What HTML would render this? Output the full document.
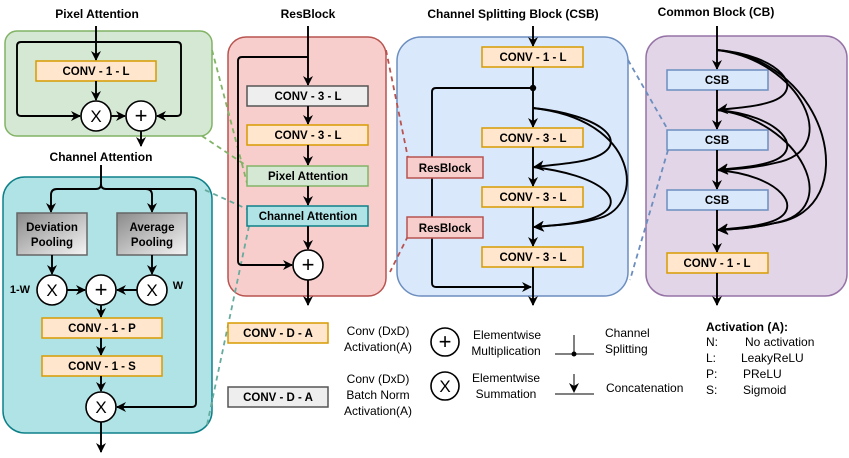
<!DOCTYPE html>
<html><head><meta charset="utf-8"><style>
html,body{margin:0;padding:0;background:#fff}
svg{display:block}
text{font-family:"Liberation Sans",sans-serif}
.t{font-weight:bold;font-size:12px;text-anchor:middle}
.b{font-weight:bold;font-size:11.5px;text-anchor:middle}
.l{font-size:12px}
.ln{stroke:#000;stroke-width:1.9;fill:none}
</style></head><body>
<svg width="849" height="458" viewBox="0 0 849 458" xmlns="http://www.w3.org/2000/svg">
<defs>
<marker id="a" markerWidth="10" markerHeight="10" refX="9" refY="5" orient="auto" markerUnits="userSpaceOnUse"><path d="M0,0 L10,5 L0,10 L3,5 z" fill="#000"/></marker>
<marker id="s" markerWidth="11" markerHeight="11" refX="10" refY="5.5" orient="auto" markerUnits="userSpaceOnUse"><path d="M0,0 L11,5.5 L0,11 L3,5.5 z" fill="#000"/></marker>
<linearGradient id="g" x1="0" y1="0" x2="1" y2="1"><stop offset="0" stop-color="#8a8a8a"/><stop offset="1" stop-color="#f5f5f5"/></linearGradient>
</defs>

<rect x="5" y="31" width="207" height="105" rx="12" fill="#d5e8d4" stroke="#82b366" stroke-width="1.5"/>
<rect x="3" y="177" width="209" height="256" rx="22" fill="#b0e3e6" stroke="#0e8088" stroke-width="1.5"/>
<rect x="228" y="37" width="158" height="259" rx="18" fill="#f8cecc" stroke="#b85450" stroke-width="1.5"/>
<rect x="397" y="37" width="231" height="259" rx="24" fill="#dae8fc" stroke="#6c8ebf" stroke-width="1.5"/>
<rect x="646" y="36" width="201" height="260" rx="22" fill="#e1d5e7" stroke="#9673a6" stroke-width="1.5"/>

<g stroke-width="1.8" stroke-dasharray="5,4" fill="none">
<path d="M212,50 L247,183" stroke="#82b366"/>
<path d="M202,136 L247,166" stroke="#82b366"/>
<path d="M205,190 L247,209" stroke="#67ab9f"/>
<path d="M249,226 L207,425" stroke="#67ab9f"/>
<path d="M386,50 L408,158" stroke="#b85450"/>
<path d="M408,236 L390,272" stroke="#b85450"/>
<path d="M628,60 L668,130" stroke="#6c8ebf"/>
<path d="M668,150 L630,280" stroke="#6c8ebf"/>
</g>

<text class="t" x="97" y="18">Pixel Attention</text>
<text class="t" x="308" y="18">ResBlock</text>
<text class="t" x="513" y="18">Channel Splitting Block (CSB)</text>
<text class="t" x="716" y="16">Common Block (CB)</text>
<text class="t" x="101" y="161">Channel Attention</text>

<path class="ln" d="M96,26 L96,60" marker-end="url(#a)"/>
<path class="ln" d="M96,42 L21,42 Q17,42 17,46 L17,112 Q17,116 21,116 L80,116" marker-end="url(#a)"/>
<path class="ln" d="M96,42 L177,42 Q181,42 181,46 L181,112 Q181,116 177,116 L157,116" marker-end="url(#a)"/>
<rect x="36" y="61" width="120" height="20" fill="#ffe6cc" stroke="#d79b00" stroke-width="1.5"/>
<text class="b" x="96" y="75">CONV - 1 - L</text>
<path class="ln" d="M96,81 L96,100" marker-end="url(#a)"/>
<path class="ln" d="M111,116 L125,116" marker-end="url(#a)"/>
<circle cx="96" cy="116" r="15" fill="#fff" stroke="#000" stroke-width="1.6"/>
<text x="96" y="122" font-size="17" text-anchor="middle">X</text>
<circle cx="141" cy="116" r="15" fill="#fff" stroke="#000" stroke-width="1.6"/>
<text x="141" y="123" font-size="22" text-anchor="middle">+</text>
<path class="ln" d="M141,131 L141,146" marker-end="url(#a)"/>

<path class="ln" d="M101,165 L101,184 Q101,189 96,189 L57,189 Q51,189 51,195 L51,212" marker-end="url(#a)"/>
<path class="ln" d="M101,184 Q101,189 106,189 L146,189 Q152,189 152,195 L152,212" marker-end="url(#a)"/>
<path class="ln" d="M106,189 L192,189 Q196,189 196,193 L196,403 Q196,407 192,407 L117,407" marker-end="url(#a)"/>
<rect x="17" y="213" width="70" height="42" fill="url(#g)" stroke="#666" stroke-width="1.5"/>
<text class="b" x="52" y="231">Deviation</text><text class="b" x="52" y="246">Pooling</text>
<rect x="117" y="213" width="70" height="42" fill="url(#g)" stroke="#666" stroke-width="1.5"/>
<text class="b" x="152" y="231">Average</text><text class="b" x="152" y="246">Pooling</text>
<path class="ln" d="M52,255 L52,274" marker-end="url(#a)"/>
<path class="ln" d="M152,255 L152,274" marker-end="url(#a)"/>
<path class="ln" d="M67,290 L85,290" marker-end="url(#a)"/>
<path class="ln" d="M137,290 L117,290" marker-end="url(#a)"/>
<circle cx="52" cy="290" r="15" fill="#fff" stroke="#000" stroke-width="1.6"/><text x="52" y="296" font-size="17" text-anchor="middle">X</text>
<circle cx="101" cy="290" r="15" fill="#fff" stroke="#000" stroke-width="1.6"/><text x="101" y="297" font-size="22" text-anchor="middle">+</text>
<circle cx="152" cy="290" r="15" fill="#fff" stroke="#000" stroke-width="1.6"/><text x="152" y="296" font-size="17" text-anchor="middle">X</text>
<text x="20" y="293" font-size="11" font-weight="bold" text-anchor="middle">1-W</text>
<text x="178" y="289" font-size="11" font-weight="bold" text-anchor="middle">W</text>
<path class="ln" d="M101,305 L101,317" marker-end="url(#a)"/>
<rect x="42" y="318" width="120" height="20" fill="#ffe6cc" stroke="#d79b00" stroke-width="1.5"/>
<text class="b" x="102" y="332">CONV - 1 - P</text>
<path class="ln" d="M101,338 L101,355" marker-end="url(#a)"/>
<rect x="42" y="356" width="120" height="20" fill="#ffe6cc" stroke="#d79b00" stroke-width="1.5"/>
<text class="b" x="102" y="370">CONV - 1 - S</text>
<path class="ln" d="M101,376 L101,391" marker-end="url(#a)"/>
<circle cx="101" cy="407" r="15" fill="#fff" stroke="#000" stroke-width="1.6"/><text x="101" y="413" font-size="17" text-anchor="middle">X</text>
<path class="ln" d="M101,422 L101,452" marker-end="url(#a)"/>

<path class="ln" d="M308,26 L308,85" marker-end="url(#a)"/>
<path class="ln" d="M308,57 L242,57 Q238,57 238,61 L238,261 Q238,265 242,265 L292,265" marker-end="url(#a)"/>
<rect x="247" y="86" width="121" height="20" fill="#eeeeee" stroke="#555" stroke-width="1.5"/>
<text class="b" x="308" y="100">CONV - 3 - L</text>
<path class="ln" d="M308,106 L308,124" marker-end="url(#a)"/>
<rect x="247" y="125" width="121" height="20" fill="#ffe6cc" stroke="#d79b00" stroke-width="1.5"/>
<text class="b" x="308" y="139">CONV - 3 - L</text>
<path class="ln" d="M308,145 L308,165" marker-end="url(#a)"/>
<rect x="247" y="166" width="121" height="20" fill="#d5e8d4" stroke="#82b366" stroke-width="1.5"/>
<text class="b" x="308" y="180">Pixel Attention</text>
<path class="ln" d="M308,186 L308,205" marker-end="url(#a)"/>
<rect x="247" y="206" width="121" height="20" fill="#b0e3e6" stroke="#0e8088" stroke-width="1.5"/>
<text class="b" x="308" y="220">Channel Attention</text>
<path class="ln" d="M308,226 L308,249" marker-end="url(#a)"/>
<circle cx="308" cy="265" r="15" fill="#fff" stroke="#000" stroke-width="1.6"/><text x="308" y="272" font-size="22" text-anchor="middle">+</text>
<path class="ln" d="M308,280 L308,305" marker-end="url(#a)"/>

<path class="ln" d="M533,26 L533,46" marker-end="url(#a)"/>
<rect x="482" y="47" width="101" height="20" fill="#ffe6cc" stroke="#d79b00" stroke-width="1.5"/>
<text class="b" x="533" y="61">CONV - 1 - L</text>
<path class="ln" d="M533,67 L533,127" marker-end="url(#a)"/>
<circle cx="533" cy="88" r="3.2" fill="#000"/>
<path class="ln" d="M533,88 L436,88 Q432,88 432,92 L432,283 Q432,287 436,287 L531,287" marker-end="url(#a)"/>
<rect x="407" y="157" width="76" height="21" fill="#f8cecc" stroke="#b85450" stroke-width="1.5"/>
<text class="b" x="445" y="172">ResBlock</text>
<rect x="407" y="217" width="76" height="21" fill="#f8cecc" stroke="#b85450" stroke-width="1.5"/>
<text class="b" x="445" y="232">ResBlock</text>
<rect x="482" y="128" width="101" height="19" fill="#ffe6cc" stroke="#d79b00" stroke-width="1.5"/>
<text class="b" x="533" y="142">CONV - 3 - L</text>
<path class="ln" d="M533,147 L533,186" marker-end="url(#a)"/>
<rect x="482" y="187" width="101" height="20" fill="#ffe6cc" stroke="#d79b00" stroke-width="1.5"/>
<text class="b" x="533" y="201">CONV - 3 - L</text>
<path class="ln" d="M533,207 L533,246" marker-end="url(#a)"/>
<rect x="482" y="247" width="101" height="20" fill="#ffe6cc" stroke="#d79b00" stroke-width="1.5"/>
<text class="b" x="533" y="261">CONV - 3 - L</text>
<path class="ln" d="M533,267 L533,305" marker-end="url(#a)"/>
<g class="ln" stroke-width="2">
<path d="M533,108 C600,115 628,140 600,155 C585,163 560,164 534,167" marker-end="url(#s)"/>
<path d="M533,108 C640,120 645,205 600,218 C580,224 560,225 534,227" marker-end="url(#s)"/>
<path d="M533,167 C600,175 628,200 600,215 C585,223 560,225 534,227" marker-end="url(#s)"/>
</g>

<path class="ln" d="M717,26 L717,69" marker-end="url(#a)"/>
<rect x="667" y="70" width="101" height="20" fill="#dae8fc" stroke="#6c8ebf" stroke-width="1.5"/>
<text class="b" x="717" y="84">CSB</text>
<path class="ln" d="M717,90 L717,129" marker-end="url(#a)"/>
<rect x="667" y="130" width="101" height="20" fill="#dae8fc" stroke="#6c8ebf" stroke-width="1.5"/>
<text class="b" x="717" y="144">CSB</text>
<path class="ln" d="M717,150 L717,189" marker-end="url(#a)"/>
<rect x="667" y="190" width="101" height="20" fill="#dae8fc" stroke="#6c8ebf" stroke-width="1.5"/>
<text class="b" x="717" y="204">CSB</text>
<path class="ln" d="M717,210 L717,252" marker-end="url(#a)"/>
<rect x="667" y="253" width="101" height="20" fill="#ffe6cc" stroke="#d79b00" stroke-width="1.5"/>
<text class="b" x="717" y="267">CONV - 1 - L</text>
<path class="ln" d="M717,273 L717,305" marker-end="url(#a)"/>
<g class="ln" stroke-width="2">
<path d="M717,50 C780,55 808,90 770,102 C755,107 735,108 718,110" marker-end="url(#s)"/>
<path d="M717,50 C800,60 845,150 775,163 C755,168 735,169 718,170" marker-end="url(#s)"/>
<path d="M717,50 C830,60 865,210 775,223 C755,228 735,229 718,230" marker-end="url(#s)"/>
<path d="M717,110 C780,115 808,150 770,162 C755,167 735,168 718,170" marker-end="url(#s)"/>
<path d="M717,110 C800,120 845,210 775,223 C755,228 735,229 718,230" marker-end="url(#s)"/>
<path d="M717,170 C780,175 808,210 770,222 C755,227 735,228 718,230" marker-end="url(#s)"/>
</g>

<rect x="228" y="323" width="100" height="20" fill="#ffe6cc" stroke="#d79b00" stroke-width="1.5"/>
<text class="b" x="278" y="337">CONV - D - A</text>
<rect x="228" y="387" width="100" height="20" fill="#eeeeee" stroke="#555" stroke-width="1.5"/>
<text class="b" x="278" y="401">CONV - D - A</text>
<g class="l" text-anchor="middle">
<text x="378" y="335">Conv (DxD)</text><text x="378" y="351">Activation(A)</text>
<text x="378" y="383">Conv (DxD)</text><text x="378" y="399">Batch Norm</text><text x="378" y="415">Activation(A)</text>
<text x="507" y="339">Elementwise</text><text x="506" y="355">Multiplication</text>
<text x="506" y="382">Elementwise</text><text x="506" y="398">Summation</text>
</g>
<circle cx="445" cy="342" r="14" fill="#fff" stroke="#000" stroke-width="1.6"/><text x="445" y="349" font-size="22" text-anchor="middle">+</text>
<circle cx="445" cy="386" r="14" fill="#fff" stroke="#000" stroke-width="1.6"/><text x="445" y="392" font-size="17" text-anchor="middle">X</text>
<path d="M555,354 L594,354 M574,335 L574,354" stroke="#000" stroke-width="1"/>
<circle cx="574" cy="354" r="2.5" fill="#000"/>
<path d="M555,394 L594,394" stroke="#000" stroke-width="1"/>
<path d="M574,374 L574,392" stroke="#000" stroke-width="1" marker-end="url(#a)"/>
<text class="l" x="605" y="337">Channel</text><text class="l" x="605" y="353">Splitting</text>
<text class="l" x="606" y="392">Concatenation</text>
<text x="706" y="331" font-size="12" font-weight="bold">Activation (A):</text>
<g class="l">
<text x="706" y="346">N:</text><text x="745" y="346">No activation</text>
<text x="706" y="362">L:</text><text x="741" y="362">LeakyReLU</text>
<text x="706" y="378">P:</text><text x="743" y="378">PReLU</text>
<text x="706" y="394">S:</text><text x="743" y="394">Sigmoid</text>
</g>
</svg>
</body></html>
